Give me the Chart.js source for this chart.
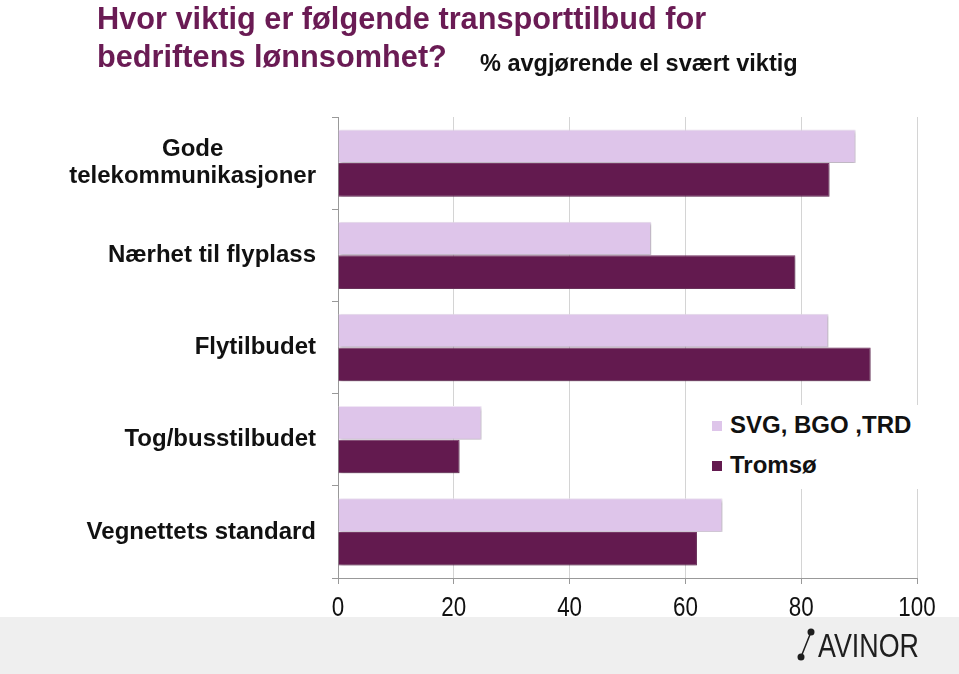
<!DOCTYPE html>
<html>
<head>
<meta charset="utf-8">
<script src="https://cdn.jsdelivr.net/npm/chart.js@4.4.1/dist/chart.umd.min.js"></script>
<style>
  html, body { margin: 0; padding: 0; background: #fff; }
  #wrap { position: relative; width: 959px; height: 674px; overflow: hidden; font-family: "Liberation Sans", Arial, sans-serif; }
  #band { position: absolute; left: 0; top: 617px; width: 959px; height: 57px; background: #efefef; }
  #chartBox { position: absolute; left: 0; top: 0; width: 959px; height: 674px; }
  .title { position: absolute; left: 97px; color: #6a1b54; font-weight: bold; font-size: 32px; white-space: nowrap; transform: scaleX(0.96); transform-origin: left top; }
  #sub { position: absolute; left: 480px; top: 49px; font-weight: bold; font-size: 24px; color: #111; white-space: nowrap; transform: scaleX(0.98); transform-origin: left top; }
  #legend { position: absolute; left: 704px; top: 405px; width: 218px; height: 84px; background: #fff; }
  .li { position: absolute; left: 8px; font-weight: bold; font-size: 24px; color: #111; white-space: nowrap; }
  .sw { position: absolute; width: 10px; height: 10px; left: 0; }
  .li span.t { position: absolute; left: 18px; top: 0; }
  #logo { position: absolute; left: 795px; top: 627px; height: 36px; width: 140px; }
  #logoTxt { position: absolute; left: 23px; top: -1px; font-size: 34px; color: #1e1e1e; font-family: "Liberation Sans", Arial, sans-serif; transform: scaleX(0.79); transform-origin: left top; }
</style>
</head>
<body>
<div id="wrap">
  <div id="band"></div>
  <div id="chartBox"><canvas id="c"></canvas></div>
  <div class="title" style="top:0px;">Hvor viktig er følgende transporttilbud for</div>
  <div class="title" style="top:38px;">bedriftens lønnsomhet?</div>
  <div id="sub">% avgjørende el svært viktig</div>
  <div id="legend"></div>
  <div id="logo">
    <svg width="22" height="36" style="position:absolute;left:0;top:0">
      <line x1="16" y1="5" x2="6" y2="30" stroke="#1e1e1e" stroke-width="1.5"/>
      <circle cx="16" cy="5" r="3.5" fill="#1e1e1e"/>
      <circle cx="6" cy="30" r="3.5" fill="#1e1e1e"/>
    </svg>
    <div id="logoTxt">AVINOR</div>
  </div>
</div>
<script>
const categories = [["Gode", "telekommunikasjoner"], ["Nærhet til flyplass"], ["Flytilbudet"], ["Tog/busstilbudet"], ["Vegnettets standard"]];
const seriesNames = ["SVG, BGO ,TRD", "Tromsø"];
const svgBgoTrd = [89.4, 54.1, 84.7, 24.8, 66.4];
const tromso = [84.9, 79.0, 92.0, 21.0, 62.0];
const xTicks = [0, 20, 40, 60, 80, 100];
const colors = ["#dec5ea", "#631a4f"];

// HTML legend built from series names and colors
const leg = document.getElementById('legend');
seriesNames.forEach((n, i) => {
  const d = document.createElement('div');
  d.className = 'li';
  d.style.top = (6 + i * 40) + 'px';
  d.innerHTML = '<div class="sw" style="top:10px;background:' + colors[i] + '"></div><span class="t"></span>';
  d.querySelector('.t').textContent = n;
  leg.appendChild(d);
});

const shadowPlugin = {
  id: 'shadow',
  beforeDatasetsDraw(chart) {
    const ctx = chart.ctx;
    ctx.save();
    ctx.shadowColor = 'rgba(0,0,0,0.28)';
    ctx.shadowBlur = 3;
    ctx.shadowOffsetX = 1.5;
    ctx.shadowOffsetY = 1.5;
  },
  afterDatasetsDraw(chart) { chart.ctx.restore(); }
};

const labelPlugin = {
  id: 'labels',
  afterDraw(chart) {
    const ctx = chart.ctx;
    const y = chart.scales.y;
    const x = chart.scales.x;
    ctx.save();
    ctx.font = 'bold 24px "Liberation Sans", Arial, sans-serif';
    ctx.fillStyle = '#111';
    ctx.textAlign = 'center';
    ctx.textBaseline = 'middle';
    const rightEdge = 316;
    const lh = 27;
    categories.forEach((lines, i) => {
      const cy = y.getPixelForValue(i);
      const maxW = Math.max(...lines.map(l => ctx.measureText(l).width));
      const cx = rightEdge - maxW / 2;
      const y0 = cy - (lines.length - 1) * lh / 2;
      lines.forEach((l, j) => ctx.fillText(l, cx, y0 + j * lh));
    });
    // x tick labels, narrow style
    ctx.font = '28px "Liberation Sans", Arial, sans-serif';
    ctx.textBaseline = 'alphabetic';
    xTicks.forEach(v => {
      ctx.save();
      ctx.translate(x.getPixelForValue(v), 616);
      ctx.scale(0.8, 1);
      ctx.fillText(String(v), 0, 0);
      ctx.restore();
    });
    ctx.restore();
  }
};

new Chart(document.getElementById('c'), {
  type: 'bar',
  data: {
    labels: categories.map(c => c.join(' ')),
    datasets: [
      { label: seriesNames[0], data: svgBgoTrd, backgroundColor: colors[0], borderColor: '#f1e6f6', borderWidth: 1, borderSkipped: 'left', categoryPercentage: 0.73, barPercentage: 1.0 },
      { label: seriesNames[1], data: tromso, backgroundColor: colors[1], borderColor: '#7a3a69', borderWidth: 1, borderSkipped: 'left', categoryPercentage: 0.73, barPercentage: 1.0 }
    ]
  },
  options: {
    indexAxis: 'y',
    responsive: true,
    maintainAspectRatio: false,
    animation: false,
    layout: { padding: { left: 332, right: 42, top: 117, bottom: 56 } },
    plugins: { legend: { display: false }, tooltip: { enabled: false } },
    scales: {
      x: {
        min: 0, max: 100,
        afterBuildTicks: s => { s.ticks = xTicks.map(v => ({ value: v })); },
        afterFit: s => { s.height = 40; },
        grid: { color: '#d4d4d4', lineWidth: 1, tickLength: 6, tickColor: '#999' },
        border: { color: '#999' },
        ticks: { display: false }
      },
      y: {
        afterFit: s => { s.width = 6; },
        grid: { drawOnChartArea: false, offset: true, tickLength: 6, color: '#999' },
        border: { color: '#999' },
        ticks: { display: false }
      }
    }
  },
  plugins: [shadowPlugin, labelPlugin]
});
</script>
</body>
</html>
